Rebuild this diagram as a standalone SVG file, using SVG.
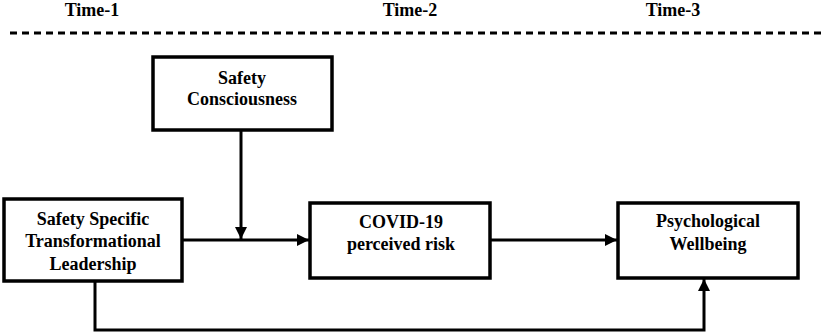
<svg xmlns="http://www.w3.org/2000/svg" width="829" height="335" viewBox="0 0 829 335">
<style>
text{font-family:"Liberation Serif","Times New Roman",serif;font-weight:bold;font-size:18px;fill:#000;text-anchor:middle}
.box{fill:#fff;stroke:#000;stroke-width:3.5}
.ln{fill:none;stroke:#000;stroke-width:3}
.dash{fill:none;stroke:#000;stroke-width:3;stroke-dasharray:7 5}
</style>
<defs>
<marker id="ah" viewBox="0 0 10 10" refX="10" refY="5" markerWidth="4" markerHeight="4" orient="auto" markerUnits="strokeWidth">
<path d="M0,0 L10,5 L0,10 z" fill="#000"/>
</marker>
</defs>
<g id="timeline">
<text x="92" y="16">Time-1</text>
<text x="410" y="16">Time-2</text>
<text x="673" y="16">Time-3</text>
<line class="dash" x1="10" y1="33" x2="824" y2="33"/>
</g>
<g id="connectors">
<line class="ln" x1="182" y1="240" x2="309" y2="240" marker-end="url(#ah)"/>
<line class="ln" x1="241" y1="130" x2="241" y2="239" marker-end="url(#ah)"/>
<line class="ln" x1="490" y1="240" x2="617" y2="240" marker-end="url(#ah)"/>
<polyline class="ln" points="95,281 95,330 704,330 704,279" marker-end="url(#ah)"/>
</g>
<g id="safety-consciousness">
<rect class="box" x="153" y="57" width="179" height="73"/>
<text x="242" y="84">Safety</text>
<text x="242" y="105">Consciousness</text>
</g>
<g id="leadership">
<rect class="box" x="4" y="199" width="178" height="82"/>
<text x="93" y="225">Safety Specific</text>
<text x="93" y="247">Transformational</text>
<text x="93" y="270">Leadership</text>
</g>
<g id="covid">
<rect class="box" x="310" y="203" width="180" height="75"/>
<text x="401" y="228">COVID-19</text>
<text x="401" y="250">perceived risk</text>
</g>
<g id="wellbeing">
<rect class="box" x="618" y="203" width="180" height="75"/>
<text x="708" y="227">Psychological</text>
<text x="708" y="250">Wellbeing</text>
</g>
</svg>
